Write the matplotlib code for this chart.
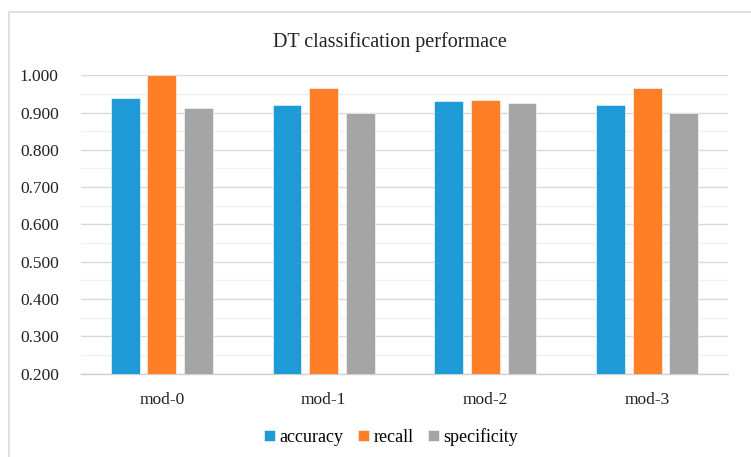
import numpy as np
import matplotlib
matplotlib.use("Agg")
import matplotlib.pyplot as plt
from matplotlib.patches import Rectangle
from matplotlib.ticker import MultipleLocator, FormatStrFormatter

# Data
models = ["mod-0", "mod-1", "mod-2", "mod-3"]
accuracy = [0.940, 0.920, 0.930, 0.920]
recall = [1.000, 0.967, 0.935, 0.967]
specificity = [0.912, 0.900, 0.927, 0.900]
series_names = ["accuracy", "recall", "specificity"]
colors = ["#1e9bd7", "#fe7f27", "#a5a5a5"]

plt.rcParams["font.family"] = ["Liberation Serif", "DejaVu Serif"]

W, H = 751, 457
fig = plt.figure(figsize=(W / 100, H / 100), dpi=100)

# outer chart border (cut off at right/bottom as in the reference)
fig.patches.append(Rectangle((9 / W, -0.1), 1.2, 1 - 12 / H + 0.1,
                             transform=fig.transFigure, fill=False,
                             edgecolor="#d9d9d9", linewidth=1.2))

ax = fig.add_axes([81 / W, 83.5 / H, 647 / W, 298.2 / H])

x = np.arange(len(models))
step = 0.226
width = 0.178
for i, (vals, name, c) in enumerate(zip([accuracy, recall, specificity], series_names, colors)):
    ax.bar(x + (i - 1) * step, vals, width, color=c, label=name,
           edgecolor="white", linewidth=0.4, zorder=3)

ax.set_xlim(-0.5, len(models) - 0.5)
ax.set_ylim(0.2, 1.0)
ax.yaxis.set_major_locator(MultipleLocator(0.1))
ax.yaxis.set_minor_locator(MultipleLocator(0.05))
ax.yaxis.set_major_formatter(FormatStrFormatter("%.3f"))
ax.grid(axis="y", which="major", color="#d9d9d9", linewidth=1.0, zorder=0)
ax.grid(axis="y", which="minor", color="#f0f0f0", linewidth=1.0, zorder=0)
ax.set_xticks(x)
ax.set_xticklabels(models)
ax.tick_params(axis="both", which="both", length=0, labelsize=12.5, colors="#222222")
ax.tick_params(axis="x", pad=13)
ax.tick_params(axis="y", pad=16)
for s in ["top", "right", "left"]:
    ax.spines[s].set_visible(False)
ax.spines["bottom"].set_color("#d0d0d0")
ax.spines["bottom"].set_linewidth(1.0)

fig.text(390 / W, 1 - 42 / H, "DT classification performace", ha="center",
         va="center", fontsize=14.5, color="#222222")

fig.legend(loc="center", bbox_to_anchor=(391 / W, 1 - 437 / H), ncol=3,
           frameon=False, fontsize=13, handlelength=0.6, handleheight=0.6,
           handletextpad=0.25, columnspacing=0.8, borderpad=0)

fig.savefig("out.png", dpi=100)
